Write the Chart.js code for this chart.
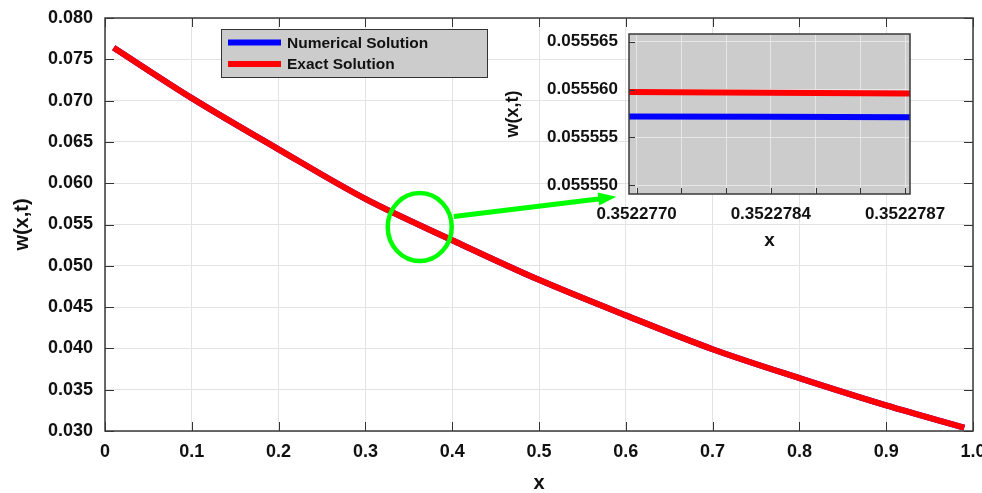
<!DOCTYPE html>
<html>
<head>
<meta charset="utf-8">
<script src="https://cdn.jsdelivr.net/npm/chart.js@4/dist/chart.umd.min.js"></script>
<style>
  html, body { margin: 0; padding: 0; background: #fff; }
  #wrap { position: relative; width: 982px; height: 493px; overflow: hidden; }
  #mainBox { position: absolute; left: 0; top: 0; width: 982px; height: 493px; }
  #insetBox { position: absolute; left: 500px; top: 0; width: 460px; height: 260px; }
</style>
</head>
<body>
<div id="wrap">
  <div id="mainBox"><canvas id="mainChart"></canvas></div>
  <div id="insetBox"><canvas id="insetChart"></canvas></div>
</div>
<script>
// main plot data
const xValues = [0.01, 0.1, 0.2, 0.3, 0.4, 0.5, 0.6, 0.7, 0.8, 0.9, 0.99];
const numericalValues = [0.0764, 0.0703, 0.0641, 0.0581, 0.0531, 0.0483, 0.0440, 0.0399, 0.0364, 0.0331, 0.0304];
const exactValues = [0.0764, 0.0703, 0.0641, 0.0581, 0.0531, 0.0483, 0.0440, 0.0399, 0.0364, 0.0331, 0.0304];
const seriesNames = ['Numerical Solution', 'Exact Solution'];

// main axis ticks
const mainXTicks = [0, 0.1, 0.2, 0.3, 0.4, 0.5, 0.6, 0.7, 0.8, 0.9, 1.0];
const mainYTicks = [0.030, 0.035, 0.040, 0.045, 0.050, 0.055, 0.060, 0.065, 0.070, 0.075, 0.080];

// zoomed inset data
const insetXPoints = [-0.17, 6.11];
const insetNumerical = [0.0555572, 0.0555571];
const insetExact = [0.05555975, 0.0555596];
const insetXTicks = [0, 1, 2, 3, 4, 5, 6];
const insetXLabels = ['0.3522770', '', '', '0.3522784', '', '', '0.3522787'];
const insetYTicks = [0.055550, 0.055555, 0.055560, 0.055565];

// zoom marker (data units of the main plot)
const markCircle = { x: 0.3626, y: 0.0547 };
const arrowFrom = { x: 0.4018, y: 0.05597 };
const arrowTo = { x: 0.589, y: 0.05835 };

const blue = '#0000ff';
const red = '#ff0000';
const green = '#00ff00';

Chart.defaults.font.family = '"Liberation Sans", Arial, Helvetica, sans-serif';
Chart.defaults.font.weight = 'bold';
Chart.defaults.color = '#111';

const pts = (xs, ys) => xs.map((x, i) => ({ x: x, y: ys[i] }));

// box + inward tick marks
function boxPlugin(id, tickLen, sides, fill) {
  return {
    id: id,
    beforeDatasetsDraw(chart) {
      if (!fill) return;
    },
    beforeDraw(chart) {
      if (!fill) return;
      const a = chart.chartArea;
      const ctx = chart.ctx;
      ctx.save();
      ctx.fillStyle = fill;
      ctx.fillRect(a.left, a.top, a.right - a.left, a.bottom - a.top);
      ctx.restore();
    },
    afterDatasetsDraw(chart) {
      const a = chart.chartArea;
      const ctx = chart.ctx;
      const xs = chart.scales.x, ys = chart.scales.y;
      ctx.save();
      ctx.strokeStyle = '#333';
      ctx.lineWidth = 1;
      ctx.beginPath();
      xs.ticks.forEach(t => {
        const px = Math.round(xs.getPixelForValue(t.value)) + 0.5;
        if (sides.bottom) { ctx.moveTo(px, a.bottom); ctx.lineTo(px, a.bottom - tickLen); }
        if (sides.top) { ctx.moveTo(px, a.top); ctx.lineTo(px, a.top + tickLen); }
      });
      ys.ticks.forEach(t => {
        const py = Math.round(ys.getPixelForValue(t.value)) + 0.5;
        if (sides.left) { ctx.moveTo(a.left, py); ctx.lineTo(a.left + tickLen, py); }
        if (sides.right) { ctx.moveTo(a.right, py); ctx.lineTo(a.right - tickLen, py); }
      });
      ctx.stroke();
      ctx.lineWidth = 1.5;
      ctx.strokeStyle = '#3a3a3a';
      ctx.strokeRect(a.left, a.top, a.right - a.left, a.bottom - a.top);
      ctx.restore();
    }
  };
}

const legendPlugin = {
  id: 'boxLegend',
  afterDraw(chart) {
    const a = chart.chartArea;
    const ctx = chart.ctx;
    const bx = a.left + 116, by = a.top + 11, bw = 266, bh = 48;
    ctx.save();
    ctx.fillStyle = '#cccccc';
    ctx.fillRect(bx, by, bw, bh);
    ctx.strokeStyle = '#333';
    ctx.lineWidth = 1;
    ctx.strokeRect(bx + 0.5, by + 0.5, bw, bh);
    ctx.font = 'bold 15.5px "Liberation Sans", Arial, sans-serif';
    ctx.textBaseline = 'middle';
    chart.data.datasets.forEach((ds, i) => {
      const ry = by + 13.5 + i * 21.5;
      ctx.strokeStyle = ds.borderColor;
      ctx.lineWidth = 6;
      ctx.beginPath();
      ctx.moveTo(bx + 7, ry);
      ctx.lineTo(bx + 60, ry);
      ctx.stroke();
      ctx.fillStyle = '#111';
      ctx.fillText(ds.label, bx + 66, ry + 1);
    });
    ctx.restore();
  }
};

const markPlugin = {
  id: 'zoomMark',
  afterDraw(chart) {
    const xs = chart.scales.x, ys = chart.scales.y;
    const ctx = chart.ctx;
    const cx = xs.getPixelForValue(markCircle.x), cy = ys.getPixelForValue(markCircle.y);
    const x0 = xs.getPixelForValue(arrowFrom.x), y0 = ys.getPixelForValue(arrowFrom.y);
    const x1 = xs.getPixelForValue(arrowTo.x), y1 = ys.getPixelForValue(arrowTo.y);
    ctx.save();
    ctx.strokeStyle = green;
    ctx.fillStyle = green;
    ctx.lineWidth = 4.5;
    ctx.beginPath();
    ctx.ellipse(cx, cy, 32, 34, 0, 0, Math.PI * 2);
    ctx.stroke();
    const ang = Math.atan2(y1 - y0, x1 - x0);
    const headLen = 18, headW = 6.5;
    const bxp = x1 - headLen * Math.cos(ang), byp = y1 - headLen * Math.sin(ang);
    ctx.lineWidth = 5;
    ctx.beginPath();
    ctx.moveTo(x0, y0);
    ctx.lineTo(bxp + 2 * Math.cos(ang), byp + 2 * Math.sin(ang));
    ctx.stroke();
    ctx.beginPath();
    ctx.moveTo(x1, y1);
    ctx.lineTo(bxp - headW * Math.sin(ang), byp + headW * Math.cos(ang));
    ctx.lineTo(bxp + headW * Math.sin(ang), byp - headW * Math.cos(ang));
    ctx.closePath();
    ctx.fill();
    ctx.restore();
  }
};

const lineStyle = { borderWidth: 6, pointRadius: 0, cubicInterpolationMode: 'monotone', borderCapStyle: 'butt', fill: false };

new Chart(document.getElementById('mainChart'), {
  type: 'line',
  data: {
    datasets: [
      Object.assign({ label: seriesNames[0], data: pts(xValues, numericalValues), borderColor: blue, order: 2 }, lineStyle),
      Object.assign({ label: seriesNames[1], data: pts(xValues, exactValues), borderColor: red, order: 1 }, lineStyle)
    ]
  },
  options: {
    animation: false,
    responsive: true,
    maintainAspectRatio: false,
    layout: { padding: { top: 18, right: 9, left: 0, bottom: 0 } },
    plugins: { legend: { display: false }, tooltip: { enabled: false } },
    scales: {
      x: {
        type: 'linear', min: 0, max: 1,
        afterBuildTicks: s => { s.ticks = mainXTicks.map(v => ({ value: v })); },
        ticks: { padding: 10, font: { size: 18, weight: 'bold' }, maxRotation: 0, autoSkip: false,
          callback: v => v === 0 ? '0' : v.toFixed(1) },
        grid: { color: '#e3e3e3', drawTicks: false },
        border: { display: false },
        title: { display: true, text: 'x', font: { size: 20, weight: 'bold', lineHeight: 1 }, padding: { top: 0, bottom: 0 } },
        afterFit: s => { s.height = 62; s.paddingLeft = 0; s.paddingRight = 0; }
      },
      y: {
        type: 'linear', min: 0.03, max: 0.08,
        afterBuildTicks: s => { s.ticks = mainYTicks.map(v => ({ value: v })); },
        ticks: { padding: 12, font: { size: 18, weight: 'bold' }, autoSkip: false,
          callback: v => v.toFixed(3) },
        grid: { color: '#e3e3e3', drawTicks: false },
        border: { display: false },
        title: { display: true, text: 'w(x,t)', font: { size: 20, weight: 'bold' }, padding: { top: 10, bottom: 0 } },
        afterFit: s => { s.width = 105; s.paddingTop = 0; s.paddingBottom = 0; }
      }
    }
  },
  plugins: [boxPlugin('mainBox', 9, { top: true, bottom: true, left: true, right: true }, null), legendPlugin, markPlugin]
});

new Chart(document.getElementById('insetChart'), {
  type: 'line',
  data: {
    datasets: [
      Object.assign({ label: seriesNames[0], data: pts(insetXPoints, insetNumerical), borderColor: blue, order: 2 }, lineStyle),
      Object.assign({ label: seriesNames[1], data: pts(insetXPoints, insetExact), borderColor: red, order: 1 }, lineStyle)
    ]
  },
  options: {
    animation: false,
    responsive: true,
    maintainAspectRatio: false,
    layout: { padding: { top: 34, right: 50, left: 0, bottom: 0 } },
    plugins: { legend: { display: false }, tooltip: { enabled: false } },
    scales: {
      x: {
        type: 'linear', min: -0.17, max: 6.11,
        afterBuildTicks: s => { s.ticks = insetXTicks.map(v => ({ value: v })); },
        ticks: { padding: 10, font: { size: 17, weight: 'bold' }, maxRotation: 0, autoSkip: false,
          callback: (v, i) => insetXLabels[i] },
        grid: { color: '#e6e6e6', drawTicks: false },
        border: { display: false },
        title: { display: true, text: 'x', font: { size: 19, weight: 'bold' }, padding: { top: 0, bottom: 8 } },
        afterFit: s => { s.height = 66; s.paddingLeft = 0; s.paddingRight = 0; }
      },
      y: {
        type: 'linear', min: 0.0555491, max: 0.0555658,
        afterBuildTicks: s => { s.ticks = insetYTicks.map(v => ({ value: v })); },
        ticks: { padding: 11, font: { size: 17, weight: 'bold' }, autoSkip: false,
          callback: v => v.toFixed(6) },
        grid: { color: '#e6e6e6', drawTicks: false },
        border: { display: false },
        title: { display: true, text: 'w(x,t)', font: { size: 18, weight: 'bold' }, padding: { top: 2, bottom: 0 } },
        afterFit: s => { s.width = 129; s.paddingTop = 0; s.paddingBottom = 0; }
      }
    }
  },
  plugins: [boxPlugin('insetBoxP', 6, { bottom: true, left: true }, '#cccccc')]
});
</script>
</body>
</html>
